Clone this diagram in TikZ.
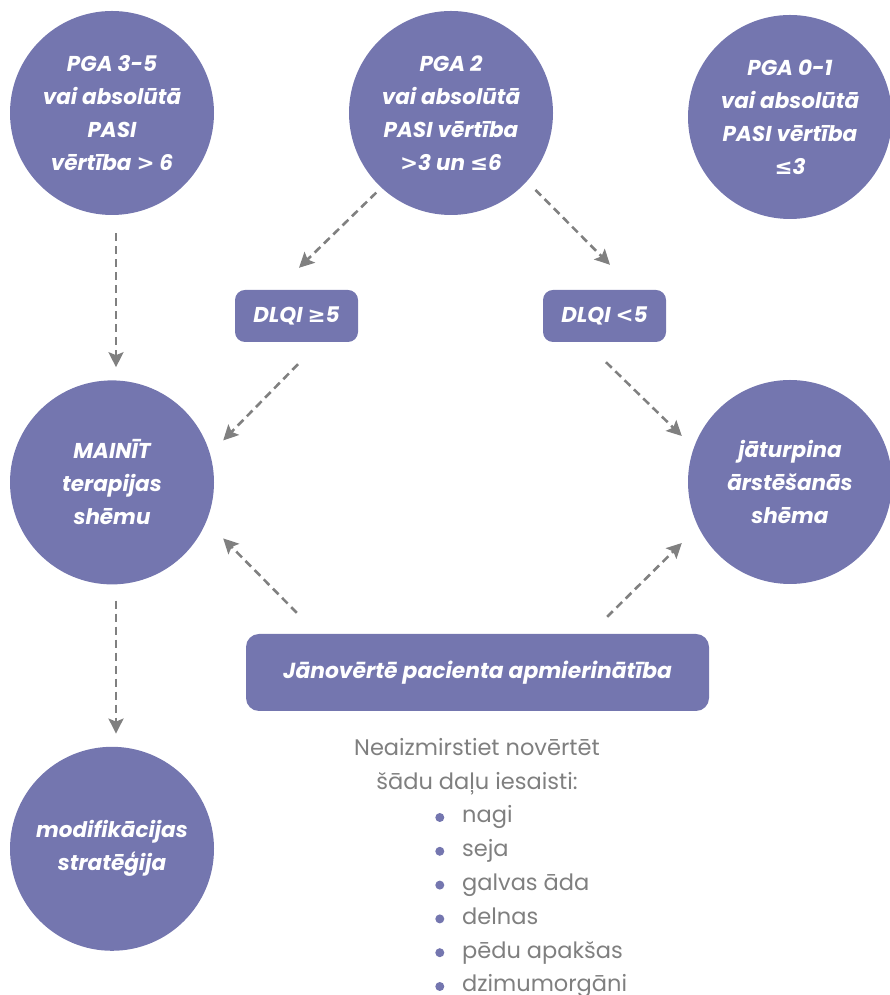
\documentclass[tikz,border=0pt]{standalone}
\usepackage{fontspec}
\setmainfont{Poppins}
\newfontfamily\symfont{DejaVu Sans}
\usetikzlibrary{arrows.meta,calc,positioning}
\definecolor{flowPurple}{HTML}{7476AF}
\definecolor{arrowGray}{HTML}{808080}
\definecolor{noteGray}{HTML}{7F7F7F}
\tikzset{
  score circle/.style={
    circle,
    fill=flowPurple,
    minimum size=204pt,
    inner sep=0pt,
    align=center,
    text=white,
    font=\fontsize{21.5}{33}\selectfont\bfseries\itshape
  },
  dlqi box/.style={
    rectangle,
    fill=flowPurple,
    rounded corners=10pt,
    minimum width=123pt,
    minimum height=52pt,
    inner sep=0pt,
    text=white,
    font=\fontsize{21.5}{24}\selectfont\bfseries\itshape
  },
  task box/.style={
    dlqi box,
    rounded corners=13pt,
    minimum width=463pt,
    minimum height=77pt,
    font=\fontsize{21.8}{24}\selectfont\bfseries\itshape
  },
  flow edge/.style={
    -{Stealth[length=15pt,width=15pt,inset=3pt]},
    draw=arrowGray,
    line width=2.6pt,
    dash pattern=on 8pt off 5pt
  },
  note text/.style={
    font=\fontsize{22.5}{34}\selectfont,
    text=noteGray,
    inner sep=0pt
  },
  bullet dot/.style={
    circle,
    fill=flowPurple,
    inner sep=0pt,
    minimum size=9pt
  },
  list item/.style={
    note text,
    text height=16pt,
    text depth=5pt,
    minimum height=33.4pt,
    label={[bullet dot,label distance=17.5pt]left:{}}
  }
}
\begin{document}
\begin{tikzpicture}[x=1pt,y=1pt]
  \useasboundingbox (0,0) rectangle (890,995);

  \node[score circle] (pgahigh) at (112,882) {PGA 3-5\\vai absolūtā\\PASI\\vērtība {\symfont >} 6};
  \node[score circle] (pgamid) at (451,882) {PGA 2\\vai absolūtā\\PASI vērtība\\{\symfont >}3 un {\symfont ≤}6};
  \node[score circle] (pgalow) at (790,878) {PGA 0-1\\vai absolūtā\\PASI vērtība\\{\symfont ≤}3};

  \node[dlqi box] (dlqihigh) at (296.5,679) {DLQI {\symfont ≥}5};
  \node[dlqi box] (dlqilow) at (604.5,679) {DLQI {\symfont <}5};

  \node[score circle,below=165pt of pgahigh] (mainit) {MAINĪT\\terapijas\\shēmu};
  \node[score circle] (keepon) at (790,513) {jāturpina\\ārstēšanās\\shēma};
  \node[score circle,below=162pt of mainit] (modif) {modifikācijas\\stratēģija};

  \node[task box] (satisfy) at (477.5,322.5) {Jānovērtē pacienta apmierinātība};

  \node[note text,anchor=base] (notetop) at (477,239) {Neaizmirstiet novērtēt};
  \node[note text,anchor=base] (notebot) at (477,205) {šādu daļu iesaisti:};
  \node[list item,anchor=base west] (item1) at (462,172) {nagi};
  \node[list item,below=0pt of item1.south west,anchor=north west] (item2) {seja};
  \node[list item,below=0pt of item2.south west,anchor=north west] (item3) {galvas āda};
  \node[list item,below=0pt of item3.south west,anchor=north west] (item4) {delnas};
  \node[list item,below=0pt of item4.south west,anchor=north west] (item5) {pēdu apakšas};
  \node[list item,below=0pt of item5.south west,anchor=north west] (item6) {dzimumorgāni};

  \draw[flow edge,shorten <=18pt,shorten >=13pt] ([xshift=4pt]pgahigh.south) -- ([xshift=4pt]mainit.north);
  \draw[flow edge,shorten <=7pt] (pgamid.227) -- ($(dlqihigh.north)+(2.5,22)$);
  \draw[flow edge,shorten <=12pt] (pgamid.-42) -- ($(dlqilow.north)+(5.5,25)$);
  \draw[flow edge] ($(dlqihigh.south)+(1.5,-22)$) -- ($(mainit.east)+(9,42)$);
  \draw[flow edge] ($(dlqilow.south)+(1.5,-20)$) -- ($(keepon.west)+(-6,46)$);
  \draw[flow edge] ($(satisfy.north west)+(51,21)$) -- ($(mainit.east)+(9,-56)$);
  \draw[flow edge] ($(satisfy.north east)+(-102,17)$) -- ($(keepon.west)+(-6,-61)$);
  \draw[flow edge,shorten <=16pt,shorten >=13pt] ([xshift=4pt]mainit.south) -- ([xshift=4pt]modif.north);
\end{tikzpicture}
\end{document}
